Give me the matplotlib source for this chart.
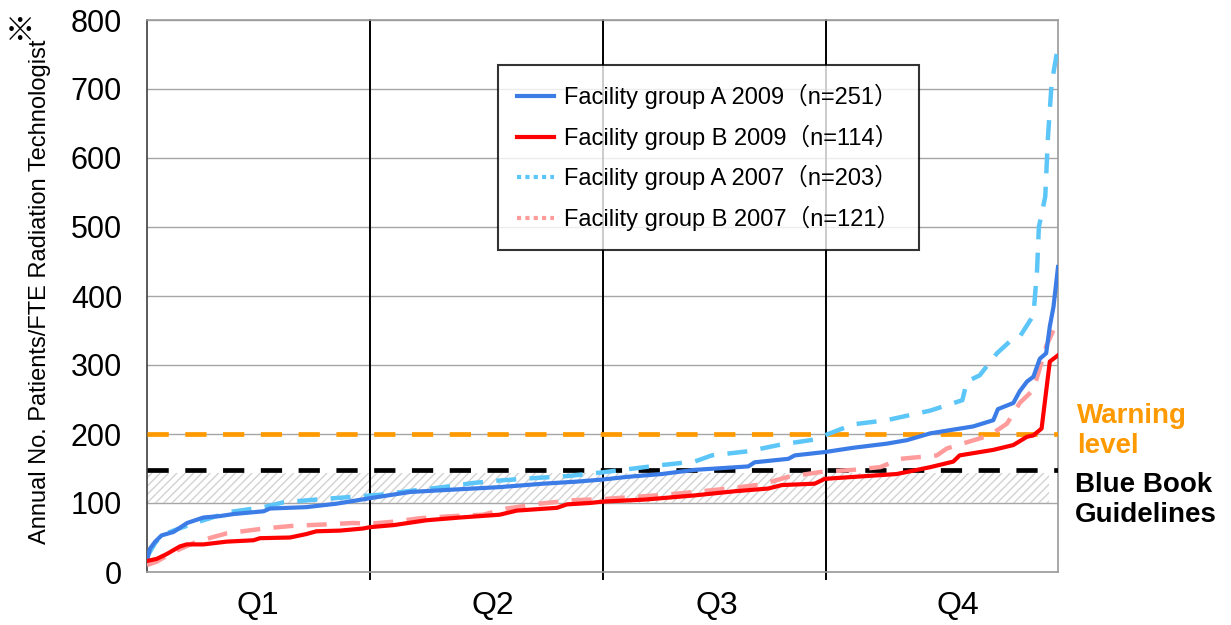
import numpy as np
import matplotlib
matplotlib.use('Agg')
import matplotlib.pyplot as plt
from matplotlib.lines import Line2D
from matplotlib.font_manager import FontProperties

plt.rcParams['font.family'] = ['Liberation Sans', 'Noto Sans CJK JP', 'DejaVu Sans']
plt.rcParams['hatch.linewidth'] = 1.0

# percentile rank (%) vs. annual patients per FTE technologist
a09_x = [0, 0.33, 0.9, 1.6, 2.9, 4.4, 6.2, 8.0, 9.5, 12.8, 13.5, 17.5, 20.8, 24.5, 28.9,
         34.4, 38.7, 43.5, 47.2, 50.0, 52.8, 56.5, 60.1, 66.0, 66.7, 70.4, 71.1, 74.5,
         77.5, 81.2, 83.4, 86.0, 90.7, 92.9, 93.4, 95.1, 95.8, 96.6, 97.3, 98.0, 98.7,
         99.1, 99.5, 100]
a09_y = [17, 34, 44, 53, 58, 71, 79, 81, 84, 88, 92, 94, 99, 107, 116,
         120, 123, 128, 131, 134, 138, 142, 148, 153, 159, 164, 169, 174,
         180, 186, 191, 201, 211, 220, 236, 245, 262, 276, 283, 309, 317,
         356, 384, 442]

b09_x = [0, 1.06, 2.16, 3.6, 4.35, 6.2, 8.75, 11.7, 12.4, 15.7, 17.5, 18.6, 21.2, 23.7,
         24.5, 27.1, 30.7, 34.4, 38.7, 40.6, 45.0, 46.1, 48.6, 50.0, 54.7, 60.1, 64.5,
         68.2, 69.7, 73.3, 74.4, 75.5, 82.3, 86.0, 88.5, 89.2, 92.9, 95.1, 96.6, 97.3,
         98.2, 99.1, 100]
b09_y = [16, 19, 26, 37, 40, 40, 44, 46, 49, 50, 55, 59, 60, 63,
         65, 68, 75, 79, 83, 89, 93, 98, 100, 102, 105, 111, 117,
         121, 126, 128, 135, 136, 142, 152, 160, 169, 177, 184, 196, 198,
         208, 305, 314]

a07_x = [0, 0.9, 1.6, 2.9, 4.4, 6.2, 9.1, 12.8, 15.0, 18.6, 22.6, 25.6, 29.2, 32.5,
         35.8, 39.1, 42.4, 46.1, 49.7, 52.8, 56.5, 60.1, 62.0, 66.0, 69.7, 73.3, 74.6,
         77.5, 81.2, 86.0, 89.5, 90.0, 91.4, 93.3, 94.7, 95.8, 97.3, 97.7, 97.9, 98.6,
         98.9, 99.3, 100]
a07_y = [22, 42, 53, 60, 67, 75, 87, 94, 101, 105, 109, 112, 118, 123,
         129, 133, 136, 139, 144, 149, 155, 160, 169, 175, 185, 192, 199,
         214, 220, 234, 249, 276, 285, 317, 334, 341, 372, 437, 500, 544,
         631, 708, 762]

b07_x = [0, 1.06, 2.9, 5.45, 8.75, 12.8, 16.1, 19.7, 22.6, 24.5, 27.1, 30.0, 33.6,
         36.9, 39.5, 43.1, 46.8, 50.4, 53.6, 56.9, 60.1, 63.8, 67.5, 70.4, 74.0, 77.5,
         80.5, 82.7, 86.7, 87.8, 90.0, 92.5, 94.4, 95.8, 97.3, 98.7, 100]
b07_y = [10, 15, 29, 44, 56, 63, 67, 69, 71, 70, 73, 78, 81,
         83, 92, 99, 104, 106, 109, 112, 116, 121, 127, 138, 145, 148,
         152, 164, 169, 179, 188, 198, 215, 245, 264, 327, 365]

labels = ['Facility group A 2009（n=251）', 'Facility group B 2009（n=114）',
          'Facility group A 2007（n=203）', 'Facility group B 2007（n=121）']
quartiles = ['Q1', 'Q2', 'Q3', 'Q4']
q_bounds = [24.5, 50, 74.5]
q_centers = [12.2, 38.0, 62.6, 89.0]
warning_level = 200
bluebook_line = 148
bluebook_band = (100, 143)

c_a09 = '#3c7ce6'
c_b09 = '#ff0000'
c_a07 = '#5cc6f8'
c_b07 = '#ff9b9b'
c_warn = '#ff9900'

fig = plt.figure(figsize=(12.31, 6.25), dpi=100)
ax = fig.add_axes([147 / 1231, 1 - 572 / 625, 911 / 1231, 552 / 625])

ax.set_xlim(0, 100)
ax.set_ylim(0, 800)
ax.set_yticks(np.arange(0, 801, 100))
ax.yaxis.grid(True, color='#a6a6a6', lw=1.0)
ax.set_axisbelow(True)
ax.tick_params(axis='y', length=0, pad=18, labelsize=22)
ax.set_xticks(q_centers)
ax.set_xticklabels(quartiles)
ax.tick_params(axis='x', length=0, pad=14, labelsize=23)
for s in ax.spines.values():
    s.set_color('#9a9a9a')
    s.set_linewidth(1.2)
ax.spines['left'].set_color('#404040')

# Blue Book band and reference lines
ax.axhspan(bluebook_band[0], bluebook_band[1], xmin=0, xmax=0.99, facecolor='none',
           edgecolor='#d2d2d2', hatch='////', lw=0, zorder=1)
ax.axhline(warning_level, color=c_warn, lw=3.4, dashes=(4.5, 3.5), zorder=3)
ax.axhline(bluebook_line, color='black', lw=3.4, dashes=(4.5, 3.5), zorder=3)

for q in q_bounds:
    ax.axvline(q, ymin=-0.012, ymax=1, color='black', lw=1.4, clip_on=False, zorder=2)

ax.plot(a07_x, a07_y, color=c_a07, lw=3.2, dashes=(4.5, 3), zorder=4)
ax.plot(b07_x, b07_y, color=c_b07, lw=3.2, dashes=(4.5, 3), zorder=4)
ax.plot(a09_x, a09_y, color=c_a09, lw=3.0, zorder=5)
ax.plot(b09_x, b09_y, color=c_b09, lw=3.0, zorder=5)

handles = [Line2D([], [], color=c_a09, lw=3),
           Line2D([], [], color=c_b09, lw=3),
           Line2D([], [], color=c_a07, lw=3, dashes=(1, 1)),
           Line2D([], [], color=c_b07, lw=3, dashes=(1, 1))]
leg = ax.legend(handles, labels, loc='upper left', bbox_to_anchor=(0.385, 0.918),
                prop=FontProperties(family=['Liberation Sans', 'Noto Sans CJK JP'], size=17),
                frameon=True, fancybox=False, borderaxespad=0, borderpad=0.8,
                handlelength=1.6, handletextpad=0.4, labelspacing=0.65)
leg.get_frame().set_edgecolor('black')
leg.get_frame().set_linewidth(1.5)
leg.set_zorder(6)

fig.text(40 / 1231, 1 - 292 / 625, 'Annual No. Patients/FTE Radiation Technologist',
         rotation=90, ha='center', va='center', fontsize=17)
fig.text(20 / 1231, 1 - 30 / 625, '※', ha='center', va='center', fontsize=22,
         family=['Noto Sans CJK JP', 'DejaVu Sans'])

fig.text(1077 / 1231, 1 - 431 / 625, 'Warning\nlevel', ha='left', va='center',
         fontsize=20, fontweight='bold', color=c_warn, linespacing=1.2)
fig.text(1075 / 1231, 1 - 500 / 625, 'Blue Book\nGuidelines', ha='left', va='center',
         fontsize=20, fontweight='bold', color='black', linespacing=1.25)

fig.savefig('out.png', dpi=100)
